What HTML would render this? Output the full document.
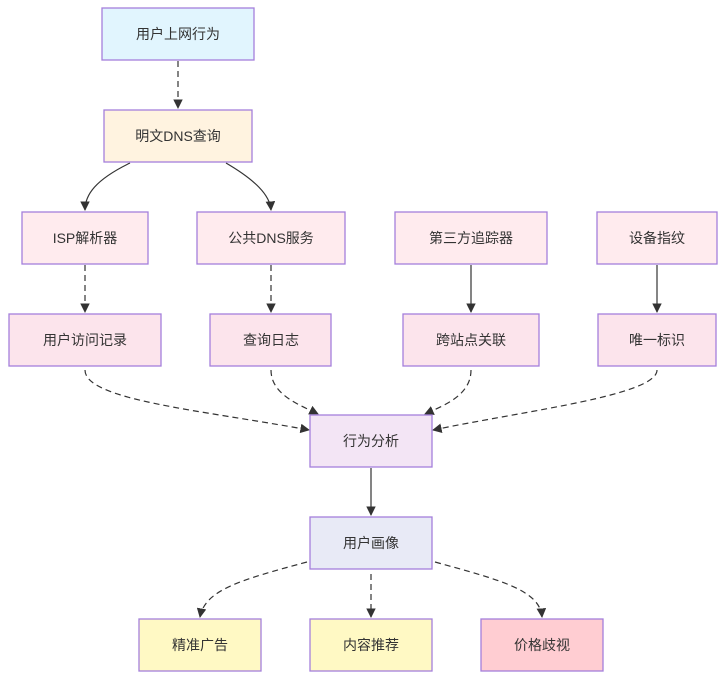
<!DOCTYPE html>
<html><head><meta charset="utf-8"><style>
body{margin:0;background:#fff}
svg text{font-family:"Liberation Sans","Noto Sans CJK SC",sans-serif;font-size:14px;fill:#333;text-anchor:middle;dominant-baseline:central}
</style></head><body>
<svg width="726" height="684" viewBox="0 0 726 684" xmlns="http://www.w3.org/2000/svg">
<defs><marker id="a" viewBox="0 0 10 10" refX="9" refY="5" markerWidth="8" markerHeight="8" orient="auto-start-reverse"><path d="M0,0L10,5L0,10z" fill="#333"/></marker></defs>
<g fill="none" stroke="#333" stroke-width="1.2">
<path d="M178,61V108" stroke-dasharray="6,4" marker-end="url(#a)"/>
<path d="M130,163C95,180 85,195 85,210" marker-end="url(#a)"/>
<path d="M226,163C255,180 270,195 271,210" marker-end="url(#a)"/>
<path d="M471,265V312" marker-end="url(#a)"/>
<path d="M657,265V312" marker-end="url(#a)"/>
<path d="M85,265V312" stroke-dasharray="6,4" marker-end="url(#a)"/>
<path d="M271,265V312" stroke-dasharray="6,4" marker-end="url(#a)"/>
<path d="M85,370C85,400 200,410 309,430" stroke-dasharray="6,4" marker-end="url(#a)"/>
<path d="M271,370C271,395 300,405 318,414" stroke-dasharray="6,4" marker-end="url(#a)"/>
<path d="M471,370C471,395 445,405 425,414" stroke-dasharray="6,4" marker-end="url(#a)"/>
<path d="M657,370C657,395 530,410 433,430" stroke-dasharray="6,4" marker-end="url(#a)"/>
<path d="M371,468V515" marker-end="url(#a)"/>
<path d="M307,562C240,580 205,590 200,617" stroke-dasharray="6,4" marker-end="url(#a)"/>
<path d="M371,574V617" stroke-dasharray="6,4" marker-end="url(#a)"/>
<path d="M435,562C500,580 540,590 542,617" stroke-dasharray="6,4" marker-end="url(#a)"/>
</g>
<g stroke="#a47fdc" stroke-width="1.3">
<rect x="102" y="8" width="152" height="52" fill="#e1f5fe"/>
<rect x="104" y="110" width="148" height="52" fill="#fff3e0"/>
<rect x="22" y="212" width="126" height="52" fill="#ffebee"/>
<rect x="197" y="212" width="148" height="52" fill="#ffebee"/>
<rect x="395" y="212" width="152" height="52" fill="#ffebee"/>
<rect x="597" y="212" width="120" height="52" fill="#ffebee"/>
<rect x="9" y="314" width="152" height="52" fill="#fce4ec"/>
<rect x="210" y="314" width="121" height="52" fill="#fce4ec"/>
<rect x="403" y="314" width="136" height="52" fill="#fce4ec"/>
<rect x="598" y="314" width="118" height="52" fill="#fce4ec"/>
<rect x="310" y="415" width="122" height="52" fill="#f3e5f5"/>
<rect x="310" y="517" width="122" height="52" fill="#e8eaf6"/>
<rect x="139" y="619" width="122" height="52" fill="#fff9c4"/>
<rect x="310" y="619" width="122" height="52" fill="#fff9c4"/>
<rect x="481" y="619" width="122" height="52" fill="#ffcdd2"/>
</g>
<text x="178" y="34">用户上网行为</text>
<text x="178" y="136">明文DNS查询</text>
<text x="85" y="238">ISP解析器</text>
<text x="271" y="238">公共DNS服务</text>
<text x="471" y="238">第三方追踪器</text>
<text x="657" y="238">设备指纹</text>
<text x="85" y="340">用户访问记录</text>
<text x="271" y="340">查询日志</text>
<text x="471" y="340">跨站点关联</text>
<text x="657" y="340">唯一标识</text>
<text x="371" y="441">行为分析</text>
<text x="371" y="543">用户画像</text>
<text x="200" y="645">精准广告</text>
<text x="371" y="645">内容推荐</text>
<text x="542" y="645">价格歧视</text>
</svg>
</body></html>
